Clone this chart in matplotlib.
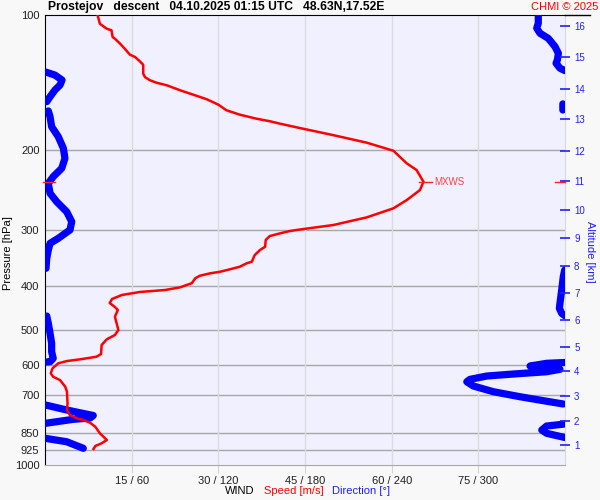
import numpy as np
import matplotlib.pyplot as plt
from matplotlib.lines import Line2D

plt.rcParams.update({'font.family': ['Liberation Sans', 'DejaVu Sans'], 'font.size': 8})

# wind speed [m/s] against pressure [hPa]
spd_p = [100, 104.6, 107.3, 108.1, 111.9, 112.9, 115.8, 118.8, 122.5, 124.0,
         126.7, 129.0, 135.0, 137.4, 139.7, 141.4, 143.3, 147.0, 150.4, 153.9,
         158.2, 162.8, 166.5, 170.0, 172.2, 174.4, 178.3, 184.8, 192.2, 200.3,
         213.6, 221.0, 234.7, 244.9, 257.8, 268.9, 281.6, 292.9, 299.7, 302.0,
         305.6, 309.9, 316.2, 327.3, 332.9, 341.5, 353.4, 356.3, 362.6, 367.4,
         372.0, 375.0, 379.7, 384.7, 394.6, 398.1, 402.8, 408.4, 412.6, 419.0,
         427.7, 436.5, 445.6, 452.5, 468.3, 484.5, 501.2, 514.2, 525.6, 541.2,
         566.7, 574.6, 582.3, 587.4, 594.3, 609.8, 625.6, 636.6, 647.5, 669.9,
         687.3, 729.3, 754.7, 774.3, 787.5, 794.3, 805.4, 822.1, 850.3, 879.9,
         894.9, 907.4, 921.4]
spd = [9.1, 9.5, 10.7, 11.5, 11.7, 12.1, 13.0, 13.8, 14.7, 15.6,
       16.4, 17.0, 17.0, 17.3, 18.2, 19.3, 21.1, 23.4, 25.7, 28.0,
       30.0, 31.4, 33.7, 36.6, 38.9, 40.7, 44.1, 49.8, 55.7, 60.3,
       62.6, 64.3, 65.5, 64.9, 62.6, 60.3, 55.7, 49.9, 44.1, 42.4,
       40.7, 38.9, 38.2, 38.1, 37.2, 36.3, 35.8, 34.9, 33.7, 32.0,
       30.3, 28.6, 26.8, 26.0, 25.4, 24.5, 23.4, 20.8, 16.4, 13.3,
       11.6, 11.2, 12.1, 12.6, 12.1, 12.4, 12.7, 12.1, 10.7, 9.8,
       9.7, 8.9, 6.1, 3.8, 2.3, 1.3, 1.0, 1.4, 2.6, 3.5,
       3.8, 3.9, 3.8, 4.3, 5.5, 6.6, 7.8, 8.7, 9.5, 10.7,
       9.8, 8.7, 8.4]

# wind direction [deg] against pressure [hPa]
dir_p = [100, 104.3, 107.0, 109.8, 112.7, 117.6, 121.7, 125.9, 128.0, 131.3, 132.9,
         133.9, 136.0, 139.5, 143.1, 146.8, 151.9, 155.8, 157.6, 162.6,
         163.4, 168.3, 177.1, 186.4, 197.7, 208.2, 219.1, 228.7, 236.6, 249.0,
         260.0, 273.6, 287.9, 300.4, 313.5, 321.7, 332.9, 347.3, 365.5,
         368.7, 381.6, 408.4, 437.2, 448.6, 460.2, 465.9,
         466.6, 484.5, 509.8, 536.6, 560.2, 579.4, 589.5, 590.4,
         591.9, 594.3, 602.6, 609.8, 612.9, 620.5, 627.8, 634.3, 645.2, 653.2,
         667.5, 687.3, 705.1, 719.6, 731.9,
         735.6, 754.7, 776.3, 786.3, 791.6, 807.9,
         810.8, 819.2, 836.2, 850.3, 868.9,
         872.5, 887.8, 918.1]
wdir = [341.5, 341.5, 340.4, 342.7, 348.4, 353.1, 355.4, 354.7, 353.8, 356.5, 359.9,
        0.5, 6.9, 11.8, 10.4, 6.9, 3.5, 1.2, 358.5, 358.5,
        2.3, 3.5, 4.6, 9.2, 12.7, 13.8, 11.6, 5.7, 2.3, 3.5,
        8.1, 15.0, 18.5, 17.3, 9.2, 3.5, 2.3, 1.2, 0.7,
        359.8, 358.8, 357.7, 356.5, 356.1, 357.7, 359.9,
        1.2, 2.3, 3.5, 4.6, 4.6, 5.7, 3.5, 1.2,
        359.9, 347.3, 335.8, 342.7, 356.5, 347.3, 324.2, 305.8, 294.2, 292.0,
        296.5, 310.4, 328.8, 345.0, 358.8,
        0.3, 15.0, 33.4, 31.2, 19.6, 0.3,
        359.8, 347.3, 343.9, 347.3, 359.9,
        0.3, 15.0, 26.5]

# altitude scale [km] and matching pressure [hPa]
alt_km = list(range(1, 17))
alt_p = [902.7, 798.6, 701.5, 617.3, 545.9, 476.3, 414.2, 360.7,
         312.5, 271.3, 233.4, 200.3, 170.5, 145.8, 124.2, 105.8]

p_ticks = [100, 200, 300, 400, 500, 600, 700, 850, 925, 1000]
spd_ticks = [15, 30, 45, 60, 75]

fig = plt.figure(figsize=(6, 5), dpi=100, facecolor='#f8f8f8')
ax = fig.add_axes([0.075, 0.07, 0.8667, 0.9])
ax.set_facecolor('#f0f0ff')

# direction drawn on the speed axis (360 deg = 90 m/s), broken where it wraps
d = np.array(wdir, float)
pp = np.array(dir_p, float)
jumps = np.where(np.abs(np.diff(d)) > 180)[0] + 1
d_line = np.insert(d, jumps, np.nan)
p_line = np.insert(pp, jumps, np.nan)
ax.plot(d_line / 4, p_line, color='#0000ff', lw=5.2, solid_capstyle='round',
        solid_joinstyle='round', zorder=3)
ax.plot(spd, spd_p, color='#ff0000', lw=1.8, zorder=4)

ax.set_yscale('log')
ax.set_ylim(1000, 100)
ax.set_xlim(0, 90)
ax.minorticks_off()
ax.set_yticks(p_ticks, [str(p) for p in p_ticks])
ax.set_xticks(spd_ticks, [f'{s} / {s * 4}' for s in spd_ticks])
ax.tick_params(axis='y', length=0, pad=4, labelsize=8, labelcolor='#202020')
ax.tick_params(axis='x', length=6, color='#d4d4d4', pad=2, labelsize=8, labelcolor='#202020')
for p in p_ticks[1:-1]:
    ax.axhline(p, color='#a8a8a8', lw=1, zorder=1)
for s in spd_ticks:
    ax.axvline(s, color='#dcdcdc', lw=1, zorder=1)

ax.spines['left'].set_color('black')
ax.spines['top'].set_color('black')
ax.spines['bottom'].set_color('#a8a8a8')
ax.spines['right'].set_color('#d8d8d8')

# maximum wind marker
i = int(np.argmax(spd))
ax.plot([spd[i] - 0.7, spd[i] + 1.4], [spd_p[i], spd_p[i]], color='#ff2020', lw=1, zorder=5)
ax.text(spd[i] + 1.9, spd_p[i], 'MXWS', color='#ff4040', fontsize=7, va='center')
yt = ax.get_yaxis_transform()
ax.plot([-0.004, 0.02], [spd_p[i], spd_p[i]], color='#ff2020', lw=1, transform=yt, clip_on=False, zorder=5)
ax.plot([0.98, 1.0], [spd_p[i], spd_p[i]], color='#ff2020', lw=1, transform=yt, clip_on=False, zorder=5)

# altitude axis on the right
ax2 = ax.twinx()
ax2.set_yscale('log')
ax2.set_ylim(1000, 100)
ax2.minorticks_off()
ax2.set_yticks(alt_p, [str(k) for k in alt_km])
ax2.tick_params(axis='y', direction='inout', length=7, width=1.2, colors='#2020ff',
                labelsize=7, pad=3)
for sp in ax2.spines.values():
    sp.set_visible(False)

fig.add_artist(Line2D([0.9417, 0.983], [0.97, 0.97], color='black', lw=1))

fig.text(0.08, 0.986, 'Prostejov   descent   04.10.2025 01:15 UTC   48.63N,17.52E',
         fontsize=8.7, fontweight='bold', va='center', ha='left')
fig.text(0.997, 0.986, 'CHMI \u00a9 2025', color='red', fontsize=8, va='center', ha='right')
fig.text(0.0133, 0.494, 'Pressure [hPa]', rotation=90, va='center', ha='center', fontsize=8)
fig.text(0.983, 0.496, 'Altitude [km]', rotation=270, va='center', ha='center',
         fontsize=8, color='#2020ff')
fig.text(0.375, 0.018, 'WIND', ha='left', va='center', fontsize=8)
fig.text(0.44, 0.018, 'Speed [m/s]', ha='left', va='center', fontsize=8, color='red')
fig.text(0.553, 0.018, 'Direction [\u00b0]', ha='left', va='center', fontsize=8, color='#2020ff')

fig.savefig('out.png', dpi=100, facecolor=fig.get_facecolor())
